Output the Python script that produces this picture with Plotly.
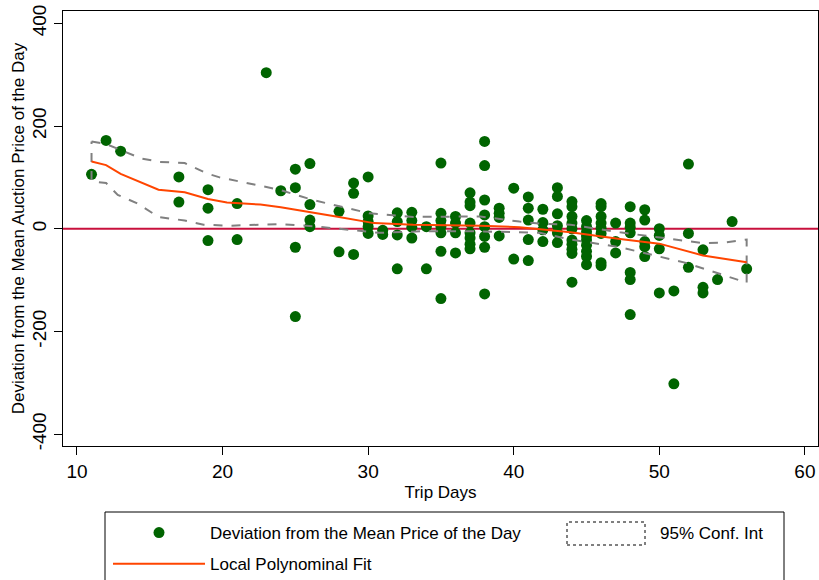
import plotly.graph_objects as go

# ---- scatter data: trip days and deviation from mean price of the day ----
trip_days = (
    [11, 12, 13, 17, 17, 19, 19, 19, 21, 21, 23, 24]
    + [25] * 4 + [26] * 4 + [28] * 2 + [29] * 3 + [30] * 5 + [31] * 2
    + [32] * 4 + [33] * 4 + [34] * 2 + [35] * 7 + [36] * 4 + [37] * 8
    + [38] * 8 + [39] * 4 + [40] * 2 + [41] * 5 + [42] * 4 + [43] * 6
    + [44] * 10 + [45] * 9 + [46] * 8 + [47] * 3 + [48] * 7 + [49] * 5
    + [50] * 4 + [51] * 2 + [52] * 3 + [53] * 3 + [54, 55, 56]
)
deviation = (
    [106, 172, 151, 101, 52, 76, 40, -23, 49, -21, 304, 74]
    + [116, 80, -36, -171]
    + [127, 47, 17, 4]
    + [34, -45]
    + [89, 69, -50]
    + [101, 25, 14, 4, -9]
    + [-3, -11]
    + [31, 14, -12, -78]
    + [32, 16, 3, -18]
    + [4, -78]
    + [128, 30, 16, 4, -8, -44, -136]
    + [24, 11, -8, -47]
    + [70, 52, 45, 11, -8, -18, -30, -39]
    + [170, 123, 56, 27, 4, -15, -36, -127]
    + [40, 30, 22, -14]
    + [79, -59]
    + [62, 40, 17, -21, -62]
    + [38, 12, -2, -25]
    + [80, 63, 29, 6, -8, -27]
    + [53, 43, 24, 11, 0, -22, -30, -40, -48, -104]
    + [16, 4, -6, -14, -22, -32, -44, -54, -70]
    + [49, 43, 24, 11, 1, -9, -66, -72]
    + [11, -25, -47]
    + [43, 11, 3, -8, -85, -99, -167]
    + [37, 17, -25, -35, -54]
    + [0, -13, -39, -125]
    + [-121, -302]
    + [126, -9, -75]
    + [-41, -114, -125]
    + [-99, 14, -78]
)

# ---- local polynomial fit ----
fit_x = [11, 12, 13, 14, 15.6, 17.4, 19.0, 20.3, 22.6, 24, 26, 27.8, 30.4, 33.1,
         37.7, 40.4, 41.8, 43.9, 47.3, 50, 53, 56]
fit_y = [131, 124, 107, 95, 76, 71, 58, 51, 47, 42, 33, 24, 11, 8,
         6, 3, -1, -7, -20, -29, -52, -65]

# ---- 95% confidence band ----
ci_up_x = [11, 12, 14.4, 15.7, 17.4, 18.9, 19.8, 21.4, 23.9, 26.2, 30.1, 33.1,
           37.7, 40.4, 41.8, 43.9, 47.3, 53, 54.4, 56]
ci_up_y = [170, 165, 137, 130, 128, 108, 100, 91, 76, 56, 30, 23,
           24, 14, 10, 8, -7, -28, -27, -21]
ci_lo_x = [11, 12, 12.8, 14.1, 15.6, 17.4, 18.7, 20.5, 23.9, 26.2, 30.8, 33.6,
           37.7, 40.4, 41.8, 43.9, 47.3, 51.9, 56]
ci_lo_y = [92, 89, 66, 50, 23, 16, 8, 6, 9, 5, -8, -5,
           -5, -7, -8, -21, -36, -67, -105]

x_ticks = [10, 20, 30, 40, 50, 60]
y_ticks = [-400, -200, 0, 200, 400]
y_tick_labels = ["-400", "-200", "0", "200", "400"]

FONT = "Liberation Sans, Arial, sans-serif"

# figure geometry in pixels
W, H = 819, 580
ML, MR, MT, MB = 63, 1, 11, 134
PW, PH = W - ML - MR, H - MT - MB


def px_x(p):
    return (p - ML) / PW


def px_y(p):
    return (H - MB - p) / PH


fig = go.Figure()

fig.add_trace(go.Scatter(
    x=trip_days, y=deviation, mode="markers",
    name="Deviation from the Mean Price of the Day",
    legend="legend", legendgroup="a",
    marker=dict(color="#006400", size=11, line=dict(width=0)),
))

band_x = ci_up_x + ci_lo_x[::-1] + [ci_up_x[0]]
band_y = ci_up_y + ci_lo_y[::-1] + [ci_up_y[0]]
fig.add_trace(go.Scatter(
    x=band_x, y=band_y, mode="lines", showlegend=False,
    line=dict(color="#808080", width=2, dash="dash"),
))
# legend entry for the confidence band (symbol drawn as a dashed box below)
fig.add_trace(go.Scatter(
    x=[None], y=[None], mode="lines", name="95% Conf. Int",
    legend="legend2",
    line=dict(color="rgba(0,0,0,0)", width=1),
))

fig.add_trace(go.Scatter(
    x=fit_x, y=fit_y, mode="lines", name="Local Polynominal Fit",
    legend="legend", legendgroup="b",
    line=dict(color="#FF4500", width=2),
))

fig.add_hline(y=0, line=dict(color="#C8103C", width=2), layer="below")

# legend frame and CI symbol box
fig.add_shape(type="rect", xref="paper", yref="paper",
              x0=px_x(105), x1=px_x(784), y0=px_y(600), y1=px_y(512),
              line=dict(color="black", width=1), fillcolor="rgba(0,0,0,0)")
fig.add_shape(type="rect", xref="paper", yref="paper",
              x0=px_x(567), x1=px_x(645), y0=px_y(545), y1=px_y(522),
              line=dict(color="black", width=1, dash="dot"),
              fillcolor="rgba(0,0,0,0)")

fig.update_layout(
    width=W, height=H,
    margin=dict(l=ML, r=MR, t=MT, b=MB, autoexpand=False),
    paper_bgcolor="white", plot_bgcolor="white",
    font=dict(family=FONT, color="black"),
    showlegend=True,
    legend=dict(
        orientation="v", x=px_x(108), xanchor="left", y=px_y(515), yanchor="top",
        borderwidth=0, bgcolor="rgba(0,0,0,0)",
        font=dict(size=17, family=FONT), itemwidth=92,
        traceorder="grouped", tracegroupgap=6,
    ),
    legend2=dict(
        orientation="v", x=px_x(570), xanchor="left", y=px_y(515), yanchor="top",
        borderwidth=0, bgcolor="rgba(0,0,0,0)",
        font=dict(size=17, family=FONT), itemwidth=80,
    ),
    xaxis=dict(
        range=[9.04, 60.9], tickvals=x_ticks, ticks="outside", ticklen=8,
        tickcolor="black", showline=True, linecolor="black", linewidth=1,
        mirror=True, showgrid=False, zeroline=False, automargin=False,
        tickfont=dict(size=19), ticklabeloverflow="allow",
        title=dict(text="Trip Days", font=dict(size=17), standoff=5),
    ),
    yaxis=dict(
        range=[-423, 424], tickvals=y_ticks, ticktext=y_tick_labels,
        ticks="outside", ticklen=8,
        tickcolor="black", showline=True, linecolor="black", linewidth=1,
        mirror=True, showgrid=False, zeroline=False, tickangle=-90,
        automargin=False, tickfont=dict(size=19), ticklabeloverflow="allow",
        title=dict(text="Deviation from the Mean Auction Price of the Day",
                   font=dict(size=17), standoff=0),
    ),
)

fig.write_html(
    "out.html",
    config={"displayModeBar": False},
    post_script="document.body.style.margin='0';document.body.style.overflow='hidden';",
)
